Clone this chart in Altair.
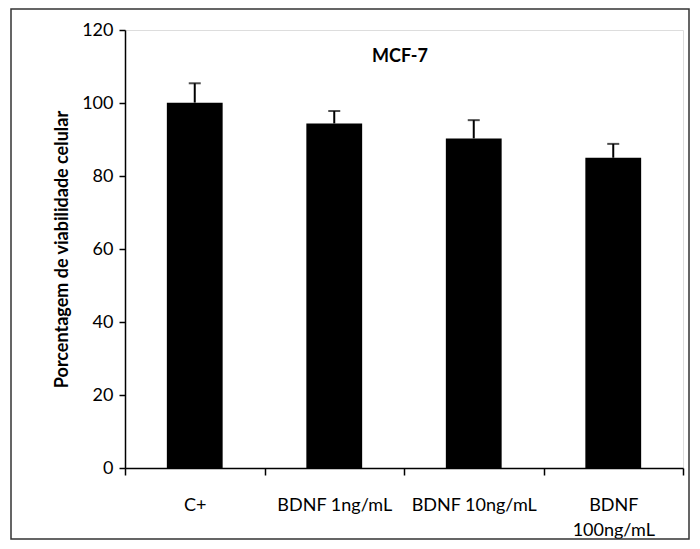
import altair as alt
import pandas as pd

categories = ["C+", "BDNF 1ng/mL", "BDNF 10ng/mL", "BDNF 100ng/mL"]
means = [100.1, 94.4, 90.3, 85.0]
upper = [105.4, 97.8, 95.3, 88.8]
y_ticks = [0, 20, 40, 60, 80, 100, 120]
title_text = "MCF-7"
y_title = "Porcentagem de viabilidade celular"

df = pd.DataFrame({"cat": categories, "mean": means, "upper": upper})

W, H = 558, 438
FONT = "Lato"

xscale = alt.Scale(paddingInner=0, paddingOuter=0)

xenc = alt.X(
    "cat:N",
    sort=categories,
    scale=xscale,
    axis=alt.Axis(
        title=None,
        labelAngle=0,
        ticks=True,
        tickBand="extent",
        tickSize=7,
        tickWidth=1.5,
        tickColor="black",
        domainColor="black",
        domainWidth=1.5,
        labelColor="black",
        labelFont=FONT,
        labelFontSize=18,
        labelPadding=21,
        labelLineHeight=25,
        labelExpr="datum.value == 'BDNF 100ng/mL' ? ['BDNF', '100ng/mL'] : datum.label",
    ),
)

yscale = alt.Scale(domain=[0, 120])

bars = alt.Chart(df).mark_bar(color="black", width=alt.RelativeBandSize(0.4)).encode(
    x=xenc,
    y=alt.Y(
        "mean:Q",
        scale=yscale,
        axis=alt.Axis(
            values=y_ticks,
            title=y_title,
            titleFont=FONT,
            titleFontSize=18,
            titleFontWeight="bold",
            titleColor="black",
            titlePadding=10,
            grid=False,
            tickSize=6,
            tickWidth=1.5,
            tickColor="black",
            domainColor="black",
            domainWidth=1.5,
            labelColor="black",
            labelFont=FONT,
            labelFontSize=18,
            labelPadding=6,
        ),
    ),
)

stems = alt.Chart(df).mark_rule(color="black", strokeWidth=2).encode(
    x=alt.X("cat:N", sort=categories),
    y=alt.Y("mean:Q", scale=yscale),
    y2="upper:Q",
)

caps = alt.Chart(df).mark_tick(color="black", thickness=2, size=12, orient="horizontal").encode(
    x=alt.X("cat:N", sort=categories),
    y=alt.Y("upper:Q", scale=yscale),
)

title = alt.Chart(pd.DataFrame({"t": [title_text]})).mark_text(
    font=FONT, fontSize=18, fontWeight="bold", color="black"
).encode(text="t:N", x=alt.value(275), y=alt.value(27))

border = alt.Chart(pd.DataFrame({"a": [0]})).mark_rect(
    fill=None, stroke="#333333", strokeWidth=1.5, clip=False
).encode(
    x=alt.value(-114), x2=alt.value(564), y=alt.value(-21), y2=alt.value(509)
)

chart = (
    alt.layer(border, bars, stems, caps, title)
    .properties(
        width=W,
        height=H,
        autosize=alt.AutoSizeParams(type="none"),
        padding={"left": 117, "top": 22, "right": 8, "bottom": 72},
    )
    .configure_view(stroke=None)
    .configure(background="white")
)

chart.save("out.html", embed_options={"renderer": "svg", "actions": False})
